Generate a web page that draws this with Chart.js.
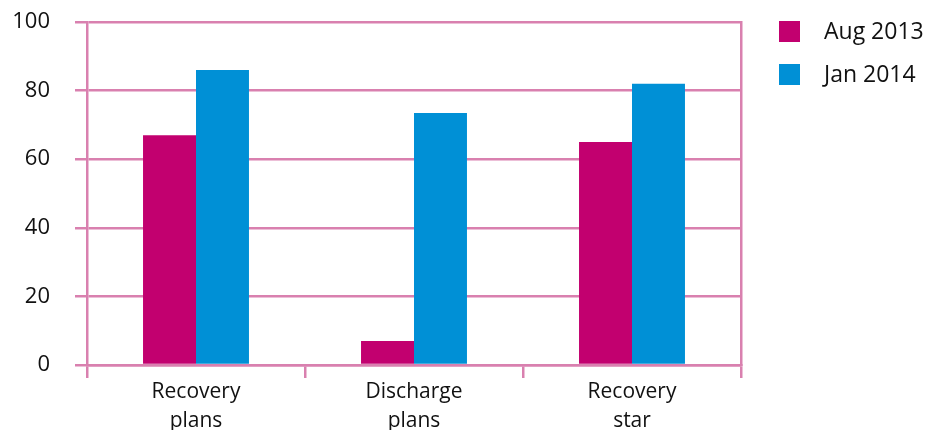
<!DOCTYPE html>
<html>
<head>
<meta charset="utf-8">
<script src="https://cdn.jsdelivr.net/npm/chart.js@4.4.1/dist/chart.umd.min.js"></script>
<style>
html, body { margin: 0; padding: 0; background: #fff; }
#wrap { width: 930px; height: 430px; }
</style>
</head>
<body>
<div id="wrap"><canvas id="chart"></canvas></div>
<script>
// data
const categories = [['Recovery', 'plans'], ['Discharge', 'plans'], ['Recovery', 'star']];
const seriesNames = ['Aug 2013', 'Jan 2014'];
const aug2013 = [67, 7, 65];
const jan2014 = [86, 73.5, 82];
const yTicks = [0, 20, 40, 60, 80, 100];

const pink = '#D980AF';
const magenta = '#C2006F';
const blue = '#0090D6';
const textColor = '#111111';
const fontFamily = '"Open Sans", "DejaVu Sans", sans-serif';

// legend drawn to the right of the plot box
const sideLegend = {
    id: 'sideLegend',
    afterDraw(chart) {
        const ctx = chart.ctx;
        const left = chart.chartArea.right + 38;
        ctx.save();
        ctx.font = '23px ' + fontFamily;
        ctx.textBaseline = 'middle';
        ctx.textAlign = 'left';
        chart.data.datasets.forEach((ds, i) => {
            const top = 21 + i * 43;
            ctx.fillStyle = ds.backgroundColor;
            ctx.fillRect(left, top, 21, 21);
            ctx.fillStyle = textColor;
            ctx.fillText(ds.label, left + 45, top + 11);
        });
        ctx.restore();
    }
};

// no extra room for overflowing tick labels, the layout padding decides
const noPad = axis => {
    axis.paddingTop = 0;
    axis.paddingBottom = 0;
    axis.paddingLeft = 0;
    axis.paddingRight = 0;
};

const ctx = document.getElementById('chart').getContext('2d');
new Chart(ctx, {
    type: 'bar',
    data: {
        labels: categories,
        datasets: [{
            label: seriesNames[0],
            data: aug2013,
            backgroundColor: magenta,
            categoryPercentage: 0.486,
            barPercentage: 1
        }, {
            label: seriesNames[1],
            data: jan2014,
            backgroundColor: blue,
            categoryPercentage: 0.486,
            barPercentage: 1
        }]
    },
    options: {
        responsive: true,
        maintainAspectRatio: false,
        animation: false,
        layout: {
            padding: { top: 22, right: 189, bottom: 0, left: 0 }
        },
        plugins: {
            legend: { display: false },
            tooltip: { enabled: false }
        },
        scales: {
            x: {
                offset: true,
                grid: {
                    offset: true,
                    drawOnChartArea: false,
                    drawTicks: true,
                    tickLength: 13,
                    color: pink,
                    lineWidth: 2.5
                },
                border: { color: pink, width: 2.5 },
                ticks: {
                    color: textColor,
                    font: { family: fontFamily, size: 21, lineHeight: 1.35 },
                    padding: 0,
                    maxRotation: 0,
                    autoSkip: false
                },
                afterFit: axis => { axis.height = 65; noPad(axis); }
            },
            y: {
                min: 0,
                max: 100,
                afterBuildTicks: axis => { axis.ticks = yTicks.map(v => ({ value: v })); },
                grid: {
                    color: pink,
                    lineWidth: 2.5,
                    tickLength: 12
                },
                border: { color: pink, width: 2.5 },
                ticks: {
                    color: textColor,
                    font: { family: fontFamily, size: 22 },
                    padding: 25
                },
                afterFit: axis => { axis.width = 87; noPad(axis); }
            },
            y2: {
                position: 'right',
                min: 0,
                max: 100,
                grid: { drawOnChartArea: false, drawTicks: false },
                border: { color: pink, width: 2.5 },
                ticks: { display: false },
                afterFit: axis => { axis.width = 0; noPad(axis); }
            }
        }
    },
    plugins: [sideLegend]
});
</script>
</body>
</html>
